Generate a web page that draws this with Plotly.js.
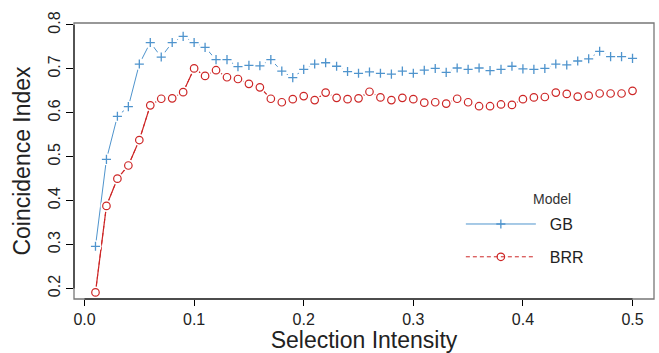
<!DOCTYPE html>
<html>
<head>
<meta charset="utf-8">
<script src="https://cdn.plot.ly/plotly-3.0.1.min.js"></script>
<style>html,body{margin:0;padding:0;background:#fff;}#chart{width:659px;height:353px;}</style>
</head>
<body>
<div id="chart"></div>
<script>
var selectionIntensity = [0.01,0.02,0.03,0.04,0.05,0.06,0.07,0.08,0.09,0.10,
  0.11,0.12,0.13,0.14,0.15,0.16,0.17,0.18,0.19,0.20,
  0.21,0.22,0.23,0.24,0.25,0.26,0.27,0.28,0.29,0.30,
  0.31,0.32,0.33,0.34,0.35,0.36,0.37,0.38,0.39,0.40,
  0.41,0.42,0.43,0.44,0.45,0.46,0.47,0.48,0.49,0.50];
var gbValues = [0.296,0.494,0.592,0.614,0.711,0.760,0.727,0.760,0.774,0.760,
  0.749,0.721,0.721,0.705,0.708,0.707,0.721,0.695,0.680,0.699,
  0.711,0.714,0.706,0.694,0.690,0.693,0.690,0.688,0.695,0.690,
  0.697,0.701,0.692,0.702,0.699,0.702,0.696,0.699,0.706,0.700,
  0.699,0.701,0.711,0.709,0.718,0.723,0.740,0.728,0.728,0.724];
var brrValues = [0.191,0.388,0.450,0.480,0.538,0.617,0.632,0.633,0.647,0.701,
  0.684,0.697,0.681,0.677,0.666,0.658,0.632,0.624,0.631,0.638,
  0.629,0.646,0.634,0.631,0.633,0.648,0.635,0.629,0.634,0.631,
  0.623,0.624,0.621,0.632,0.624,0.615,0.615,0.619,0.618,0.631,
  0.635,0.636,0.646,0.643,0.637,0.639,0.644,0.644,0.644,0.650];
var seriesNames = ['GB', 'BRR'];
var legendTitle = 'Model';
var xTickVals = [0.0, 0.1, 0.2, 0.3, 0.4, 0.5];
var xTickText = ['0.0', '0.1', '0.2', '0.3', '0.4', '0.5'];
var yTickVals = [0.2, 0.3, 0.4, 0.5, 0.6, 0.7, 0.8];
var yTickText = ['0.2', '0.3', '0.4', '0.5', '0.6', '0.7', '0.8'];

var blue = '#4F94CD', red = '#CD2626';
var FONT = '"Liberation Sans", Arial, Helvetica, sans-serif';
var NB = '\u00A0';
var plusMarker = {symbol: 'cross-thin-open', size: 6.5, color: blue, line: {color: blue, width: 1.3}};
var circMarker = {symbol: 'circle-open', size: 7.5, color: red, line: {color: red, width: 1.2}};

var traces = [
  {x: selectionIntensity, y: gbValues, name: NB + NB + seriesNames[0], mode: 'lines+markers', legendgroup: 'a',
   line: {color: blue, width: 1}, marker: plusMarker, hoverinfo: 'skip'},
  {x: selectionIntensity, y: brrValues, name: NB + NB + seriesNames[1], mode: 'lines+markers', legendgroup: 'b',
   line: {color: red, width: 1, dash: '4px,3px'}, marker: circMarker, hoverinfo: 'skip'},
  {x: selectionIntensity, y: brrValues, mode: 'lines', showlegend: false,
   line: {color: red, width: 1.2}, hoverinfo: 'skip'},
  {x: selectionIntensity.concat(selectionIntensity), y: gbValues.concat(brrValues), mode: 'markers', showlegend: false,
   marker: {symbol: 'circle', size: 12, color: '#ffffff', line: {width: 0}}, hoverinfo: 'skip'},
  {x: selectionIntensity, y: gbValues, mode: 'markers', showlegend: false, marker: plusMarker, hoverinfo: 'skip'},
  {x: selectionIntensity, y: brrValues, mode: 'markers', showlegend: false, marker: circMarker, hoverinfo: 'skip'}
];

var layout = {
  width: 659, height: 353,
  margin: {l: 74, r: 5, t: 23, b: 54},
  paper_bgcolor: '#ffffff', plot_bgcolor: '#ffffff',
  font: {family: FONT, color: '#222222'},
  showlegend: true,
  legend: {
    x: 0.667, y: 0.333, xanchor: 'left', yanchor: 'top',
    bgcolor: 'rgba(0,0,0,0)', borderwidth: 0,
    font: {size: 16, family: FONT, color: '#222222'},
    itemwidth: 70, tracegroupgap: 9
  },
  annotations: [
    {text: legendTitle, xref: 'paper', yref: 'paper', x: 0.824, y: 0.362, xanchor: 'center', yanchor: 'middle',
     showarrow: false, font: {size: 14, family: FONT, color: '#333333'}}
  ],
  xaxis: {
    range: [-0.0096, 0.5196], showgrid: false, zeroline: false, showline: false,
    tickvals: xTickVals, ticktext: xTickText, ticks: 'outside', ticklen: 6, tickcolor: '#000', tickwidth: 1,
    tickfont: {size: 16, family: FONT, color: '#222222'},
    title: {text: 'Selection Intensity', font: {size: 23, family: FONT, color: '#222222'}, standoff: 4}
  },
  yaxis: {
    range: [0.176, 0.8045], showgrid: false, zeroline: false, showline: false,
    tickvals: yTickVals, ticktext: yTickText, ticks: 'outside', ticklen: 7, tickcolor: '#000', tickwidth: 1,
    tickangle: -90,
    tickfont: {size: 16, family: FONT, color: '#222222'},
    title: {text: 'Coincidence Index', font: {size: 23, family: FONT, color: '#222222'}, standoff: 8}
  },
  shapes: [
    {type: 'rect', xref: 'paper', yref: 'paper', x0: 0, x1: 1, y0: 0, y1: 1,
     line: {color: '#777777', width: 1.3}, layer: 'above'},
    {type: 'line', xref: 'x', yref: 'paper', x0: xTickVals[0], x1: xTickVals[xTickVals.length - 1], y0: 0, y1: 0,
     line: {color: '#000000', width: 1}, layer: 'above'},
    {type: 'line', xref: 'paper', yref: 'y', x0: 0, x1: 0, y0: yTickVals[0], y1: yTickVals[yTickVals.length - 1],
     line: {color: '#000000', width: 1}, layer: 'above'}
  ]
};

Plotly.newPlot('chart', traces, layout, {displayModeBar: false, staticPlot: true});
</script>
</body>
</html>
